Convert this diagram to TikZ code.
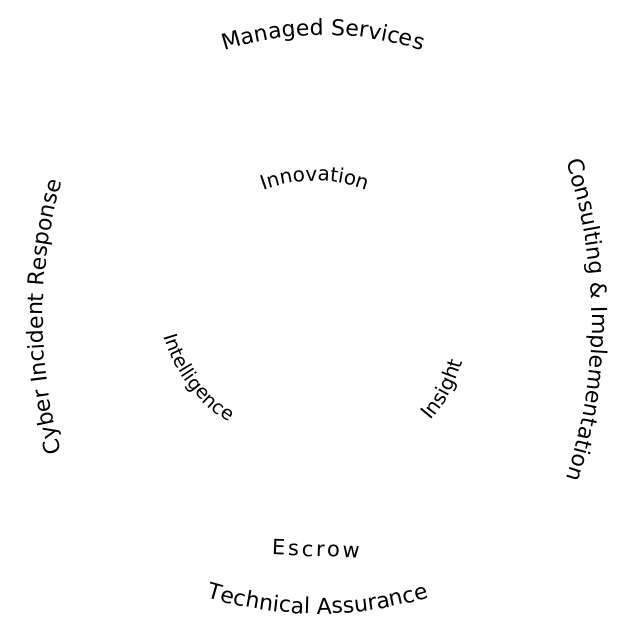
\documentclass[tikz,border=0pt]{standalone}
\usepackage{fontspec}
\usetikzlibrary{decorations.text}
\newfontfamily\dvs{DejaVu Sans}
\newfontfamily\dvsls[LetterSpace=13]{DejaVu Sans}
\newcommand\outerfont{\dvs\fontsize{22}{26}\selectfont}
\newcommand\innerfont{\dvs\fontsize{20}{24}\selectfont}
\newcommand\smallinnerfont{\dvs\fontsize{19}{23}\selectfont}
\tikzset{
  ringtext/.style={decorate, decoration={text along path, text={#1}, text align=center}},
}
\begin{document}
\begin{tikzpicture}[x=1pt,y=1pt]
\useasboundingbox (0,0) rectangle (619,625);
% outer ring
\begingroup\outerfont
\path[ringtext={Managed Services}] ([shift={(117:320)}]323,270) arc[start angle=117, end angle=63, radius=320];
\path[ringtext={Consulting {\&} Implementation}] ([shift={(26:500)}]92,305) arc[start angle=26, end angle=-26, radius=500];
\path[ringtext={Cyber Incident Response}] ([shift={(204:500)}]543,308) arc[start angle=204, end angle=156, radius=500];
\path[ringtext={Technical Assurance}] ([shift={(245:380)}]318,391) arc[start angle=245, end angle=295, radius=380];
\endgroup
% inner ring
\begingroup\innerfont
\path[ringtext={Innovation}] ([shift={(125:150)}]315,294) arc[start angle=125, end angle=55, radius=150];
\path[ringtext={Insight}] ([shift={(-58:150)}]317.5,302.4) arc[start angle=-58, end angle=2, radius=150];
\endgroup
\begingroup\smallinnerfont
\path[ringtext={Intelligence}] ([shift={(182:150)}]308,330) arc[start angle=182, end angle=252, radius=150];
\endgroup
\node[inner sep=0, rotate=-2, font={\dvsls\fontsize{21}{25}\selectfont}] (escrow) at (316,76) {Escrow};
\end{tikzpicture}
\end{document}
